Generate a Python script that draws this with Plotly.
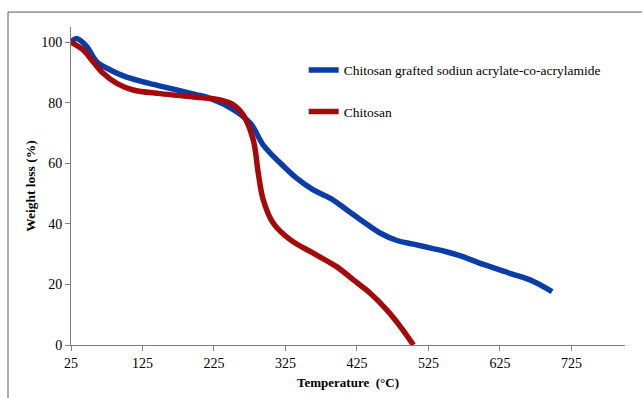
import plotly.graph_objects as go

# Chitosan grafted sodium acrylate-co-acrylamide
temp_graft = [25, 33, 47, 61, 80, 100, 126, 150, 173, 200, 220, 250, 276, 294, 318, 341, 364,
              388, 411, 434, 458, 481, 504, 530, 550, 570, 602, 640, 672, 698]
wt_graft = [100, 101.2, 98.5, 93.5, 90.8, 88.7, 86.9, 85.5, 84.2, 82.7, 81.4, 78, 73.2, 66, 60, 55, 51.2,
            48.4, 44.6, 40.7, 36.9, 34.5, 33.3, 31.9, 30.8, 29.4, 26.6, 23.6, 21, 17.6]

# Chitosan
temp_chit = [25, 42, 56, 70, 89, 112, 150, 196, 234, 250, 266, 280, 287, 294, 308, 332, 364,
             397, 420, 444, 467, 486, 504]
wt_chit = [100, 97.4, 93.5, 89.7, 86.4, 84.2, 83, 81.9, 80.9, 79.6, 75.9, 67.7, 56.7, 47.9, 40.2, 34.7, 30.3,
           25.8, 21.5, 17, 11.5, 6, 0]

x_ticks = [25, 125, 225, 325, 425, 525, 625, 725]
y_ticks = [0, 20, 40, 60, 80, 100]

FONT = "Liberation Serif"
AXC = "#7f7f7f"

fig = go.Figure()
fig.add_trace(go.Scatter(x=temp_graft, y=wt_graft, mode="lines",
                         name="Chitosan grafted sodiun acrylate-co-acrylamide",
                         line=dict(color="#0a3ea6", width=5.5, shape="spline", smoothing=1.0),
                         legendgroup="a"))
fig.add_trace(go.Scatter(x=temp_chit, y=wt_chit, mode="lines", name="Chitosan",
                         line=dict(color="#a50a0a", width=5.5, shape="spline", smoothing=1.0),
                         legendgroup="b"))

fig.update_layout(
    width=642, height=398,
    margin=dict(l=71, r=17, t=27, b=53),
    paper_bgcolor="white", plot_bgcolor="white",
    font=dict(family=FONT, size=13, color="black"),
    showlegend=True,
    legend=dict(x=0.42, y=0.913, xanchor="left", yanchor="top",
                bgcolor="rgba(0,0,0,0)", font=dict(family=FONT, size=13.5),
                traceorder="grouped", tracegroupgap=21, itemwidth=30),
    shapes=[dict(type="rect", xref="paper", yref="paper",
                 x0=-0.1137, y0=-0.2, x1=1.1, y1=1.047,
                 line=dict(color="#595959", width=1), fillcolor="rgba(0,0,0,0)", layer="below")],
)
fig.update_xaxes(range=[25, 800], tickvals=x_ticks, ticktext=[str(v) for v in x_ticks],
                 showgrid=False, zeroline=False, showline=True, linecolor=AXC, linewidth=1,
                 ticks="outside", ticklen=5, tickcolor=AXC, automargin=False,
                 tickfont=dict(family=FONT, size=14),
                 title=dict(text="<b>Temperature  (°C)</b>", font=dict(family=FONT, size=13), standoff=8))
fig.update_yaxes(range=[0, 105], tickvals=y_ticks, ticktext=[str(v) for v in y_ticks],
                 showgrid=False, zeroline=False, showline=True, linecolor=AXC, linewidth=1,
                 ticks="outside", ticklen=5, tickcolor=AXC, automargin=False,
                 tickfont=dict(family=FONT, size=14),
                 title=dict(text="<b>Weight loss (%)</b>", font=dict(family=FONT, size=13.5), standoff=2))

fig.write_html("out.html", config={"displayModeBar": False},
               post_script="document.body.style.margin='0px';")
